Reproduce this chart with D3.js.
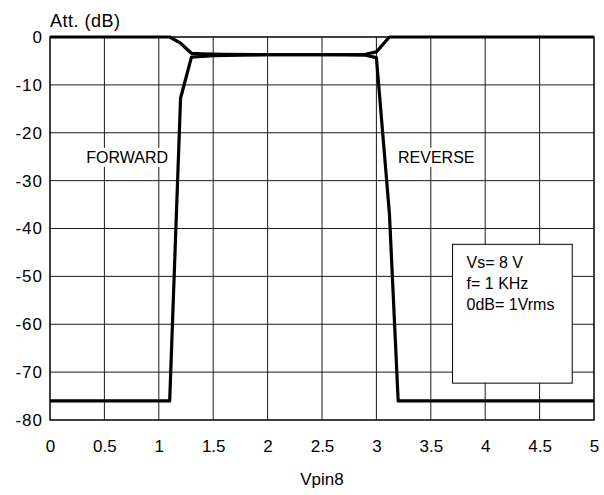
<!DOCTYPE html>
<html>
<head>
<meta charset="utf-8">
<script src="https://cdn.jsdelivr.net/npm/d3@7"></script>
<style>
  body { margin: 0; background: #fff; }
  svg text { font-family: "Liberation Sans", Arial, sans-serif; fill: #000; }
</style>
</head>
<body>
<div id="chart"></div>
<script>
// Tick values
const xTicks = [0, 0.5, 1, 1.5, 2, 2.5, 3, 3.5, 4, 4.5, 5];
const yTicks = [0, -10, -20, -30, -40, -50, -60, -70, -80];

// Curve starting at 0 dB (drops at ~3.2 V)
const curveAX = [0, 1.1, 1.2, 1.3, 1.4, 1.6, 2.0, 2.5, 2.9, 3.0, 3.12, 3.2, 5];
const curveAY = [0, 0, -1.3, -3.4, -3.5, -3.6, -3.7, -3.7, -3.8, -4.3, -37, -76, -76];

// Curve starting at -76 dB (rises at ~1.1 V)
const curveBX = [0, 1.1, 1.2, 1.3, 1.5, 2.0, 2.5, 2.9, 3.0, 3.12, 5];
const curveBY = [-76, -76, -12.8, -4.2, -3.9, -3.7, -3.7, -3.6, -3.1, 0, 0];

const notes = ["Vs= 8 V", "f= 1 KHz", "0dB= 1Vrms"];

const width = 604, height = 495;
const margin = { top: 37, right: 10, bottom: 75, left: 50 };
const w = width - margin.left - margin.right;
const h = height - margin.top - margin.bottom;

const svg = d3.select("#chart").append("svg")
    .attr("width", width)
    .attr("height", height);

const g = svg.append("g")
    .attr("transform", `translate(${margin.left},${margin.top})`);

const x = d3.scaleLinear().domain([0, 5]).range([0, w]);
const y = d3.scaleLinear().domain([-80, 0]).range([h, 0]);

// grid
g.append("g")
    .selectAll("line")
    .data(xTicks.slice(1, -1))
    .join("line")
    .attr("x1", d => x(d)).attr("x2", d => x(d))
    .attr("y1", 0).attr("y2", h)
    .attr("stroke", "#1a1a1a").attr("stroke-width", 1);

g.append("g")
    .selectAll("line")
    .data(yTicks.slice(1, -1))
    .join("line")
    .attr("x1", 0).attr("x2", w)
    .attr("y1", d => y(d)).attr("y2", d => y(d))
    .attr("stroke", "#1a1a1a").attr("stroke-width", 1);

// frame
g.append("rect")
    .attr("width", w).attr("height", h)
    .attr("fill", "none")
    .attr("stroke", "#000").attr("stroke-width", 1.5);

// axes labels
const xAxis = g.append("g")
    .attr("transform", `translate(0,${h})`)
    .call(d3.axisBottom(x).tickValues(xTicks).tickSize(0).tickPadding(20).tickFormat(d => String(d)));
xAxis.select(".domain").remove();
xAxis.selectAll("text").style("font-size", "17px").attr("fill", "#000");

const yAxis = g.append("g")
    .call(d3.axisLeft(y).tickValues(yTicks).tickSize(0).tickPadding(7).tickFormat(d => d < 0 ? "-" + Math.abs(d) : String(d)));
yAxis.select(".domain").remove();
yAxis.selectAll("text").style("font-size", "17px").style("letter-spacing", "1px").attr("fill", "#000");

svg.append("text")
    .attr("x", margin.left + w / 2)
    .attr("y", 485)
    .attr("text-anchor", "middle")
    .style("font-size", "17px")
    .text("Vpin8");

svg.append("text")
    .attr("x", 50)
    .attr("y", 27)
    .style("font-size", "18px")
    .style("letter-spacing", "0.5px")
    .text("Att. (dB)");

// curve labels with white backing
function curveLabel(cx, cy, txt) {
    const t = g.append("text")
        .attr("x", cx).attr("y", cy)
        .attr("text-anchor", "middle")
        .style("font-size", "16px")
        .text(txt);
    const bb = t.node().getBBox();
    g.insert("rect", () => t.node())
        .attr("x", bb.x - 3).attr("y", bb.y - 1)
        .attr("width", bb.width + 6).attr("height", bb.height + 2)
        .attr("fill", "#fff");
}
curveLabel(x(0.71), y(-26.3), "FORWARD");
curveLabel(x(3.55), y(-26.3), "REVERSE");

// curves
const line = d3.line()
    .x(d => x(d[0]))
    .y(d => y(d[1]));

const seriesA = curveAX.map((v, i) => [v, curveAY[i]]);
const seriesB = curveBX.map((v, i) => [v, curveBY[i]]);

[seriesA, seriesB].forEach(s => {
    g.append("path")
        .datum(s)
        .attr("d", line)
        .attr("fill", "none")
        .attr("stroke", "#000")
        .attr("stroke-width", 3.2)
        .attr("stroke-linejoin", "round");
});

// notes box
const bx = x(3.7), byTop = y(-43.3), bx2 = x(4.8), byBot = y(-72.3);
g.append("rect")
    .attr("x", bx).attr("y", byTop)
    .attr("width", bx2 - bx).attr("height", byBot - byTop)
    .attr("fill", "#fff")
    .attr("stroke", "#000").attr("stroke-width", 1);

g.selectAll("text.note")
    .data(notes)
    .join("text")
    .attr("class", "note")
    .attr("x", bx + 14)
    .attr("y", (d, i) => byTop + 24 + i * 21)
    .style("font-size", "16px")
    .text(d => d);
</script>
</body>
</html>
